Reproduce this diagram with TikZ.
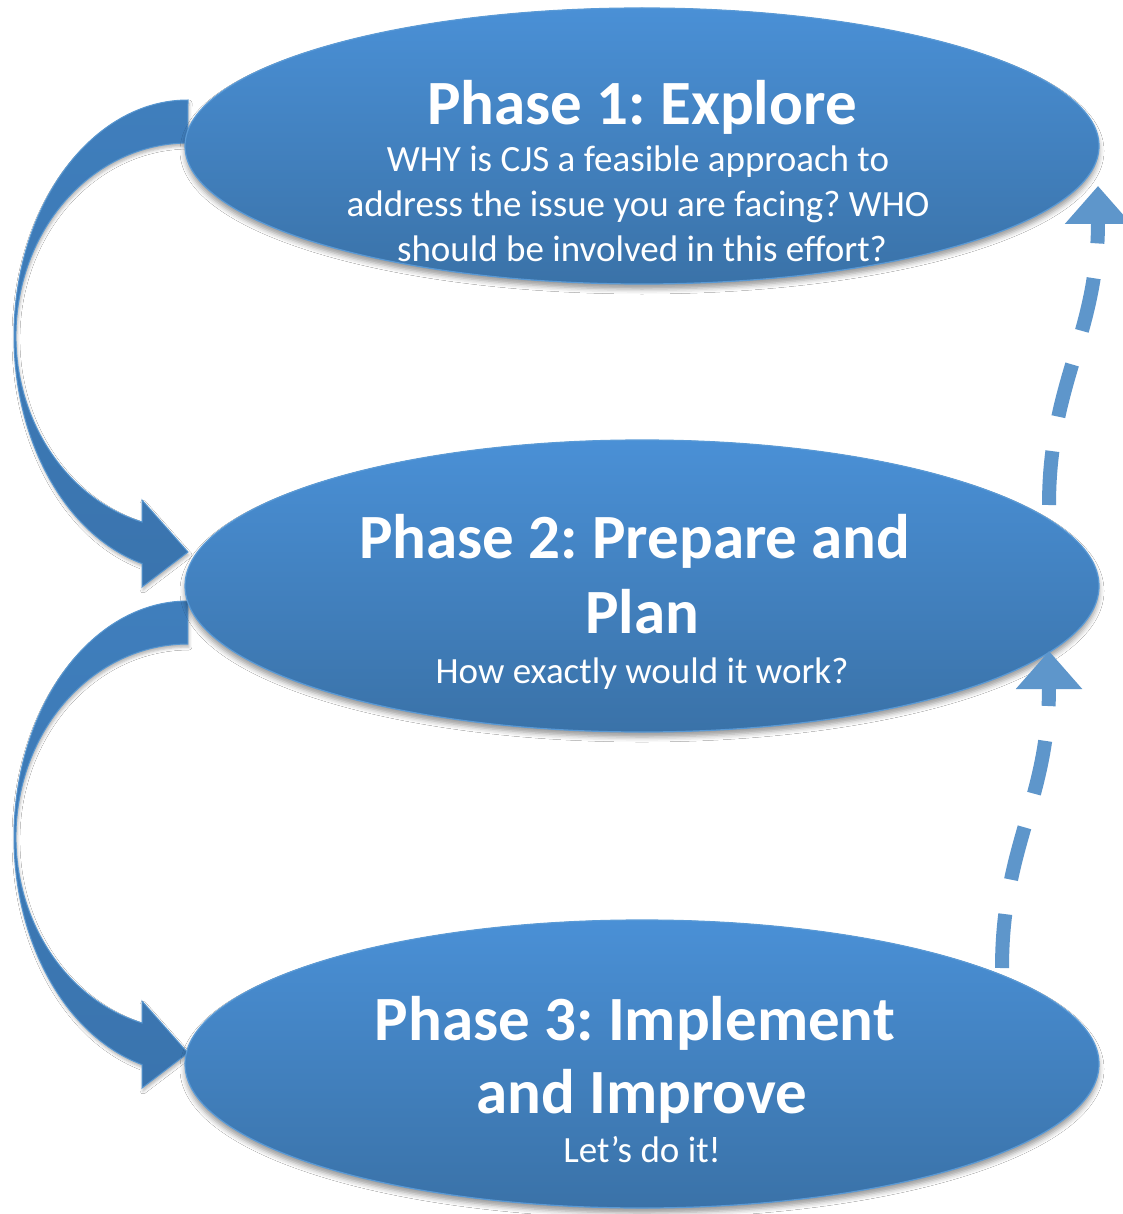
\documentclass[tikz,border=0pt]{standalone}
\usepackage{fontspec}
\setmainfont{Carlito}
\usetikzlibrary{arrows.meta,shapes.geometric,shadows.blur}
\definecolor{elltop}{HTML}{4A90D6}
\definecolor{ellbot}{HTML}{3A72A8}
\definecolor{ellline}{HTML}{5A9AD6}
\definecolor{arrtop}{HTML}{3F7EBC}
\definecolor{arrbot}{HTML}{3A74AE}
\definecolor{arrline}{HTML}{5796D0}
\definecolor{dashcol}{HTML}{5E96CB}
\frenchspacing
\begin{document}
\begin{tikzpicture}[x=1pt,y=-1pt,
  phase/.style={ellipse, draw=ellline, line width=1.2pt, top color=elltop, bottom color=ellbot,
    minimum width=914pt, inner sep=0pt,
    blur shadow={shadow xshift=0pt, shadow yshift=-5pt, shadow blur radius=5pt, shadow opacity=40}},
  ttl/.style={text=white, font=\fontsize{63}{75}\selectfont\bfseries, inner sep=0pt, anchor=base},
  sub/.style={text=white, font=\fontsize{37}{45}\selectfont, inner sep=0pt, anchor=base},
  bigarrow/.style={draw=arrline, line width=1pt, top color=arrtop, bottom color=arrbot,
    blur shadow={shadow xshift=1pt, shadow yshift=-3pt, shadow blur radius=3pt, shadow opacity=30}},
  dasharrow/.style={draw=dashcol, line width=14pt, dash pattern=on 54pt off 35pt,
    -{Triangle[width=64pt,length=38pt]}}
]
\fill[white] (0,0) rectangle (1122,1214);
\useasboundingbox (0,0) rectangle (1122,1214);

% curved block arrows
\path[bigarrow] (188,100) arc[start angle=270, end angle=105.3, x radius=174, y radius=236]
  -- (142,587) -- (188,552) -- (142,500) -- (142,522)
  arc[start angle=105.5, end angle=270, x radius=172, y radius=193] -- cycle;
\begin{scope}[shift={(0,501)}]
\path[bigarrow] (188,100) arc[start angle=270, end angle=105.3, x radius=174, y radius=236]
  -- (142,587) -- (188,552) -- (142,500) -- (142,522)
  arc[start angle=105.5, end angle=270, x radius=172, y radius=193] -- cycle;
\end{scope}

% ellipses
\node[phase, minimum height=276pt] (e1) at (642,146) {};
\node[phase, minimum height=292pt] (e2) at (642,586) {};
\node[phase, minimum height=288pt] (e3) at (642,1064) {};

% texts
\node[ttl] (t1) at (642,125) {Phase 1: Explore};
\node[sub] (s1a) at (638,172) {WHY is CJS a feasible approach to};
\node[sub] (s1b) at (638,217) {address the issue you are facing? WHO};
\node[sub] (s1c) at (642,262) {should be involved in this effort?};

\node[ttl] (t2a) at (635,558) {Phase 2: Prepare and};
\node[ttl] (t2b) at (642,633) {Plan};
\node[sub] (s2) at (642,683) {How exactly would it work?};

\node[ttl] (t3a) at (635,1040) {Phase 3: Implement};
\node[ttl] (t3b) at (642,1113) {and Improve};
\node[sub] (s3) at (642,1162) {Let’s do it!};

% dashed return arrows
\coordinate (d1s) at (1002,968);
\coordinate (d1e) at (1049,651);
\coordinate (d2s) at (1049,505);
\coordinate (d2e) at (1098,186);
\draw[dasharrow] (d1s) .. controls (1002,845) and (1049,800) .. (d1e);
\draw[dasharrow] (d2s) .. controls (1049,382) and (1098,335) .. (d2e);
\end{tikzpicture}
\end{document}
